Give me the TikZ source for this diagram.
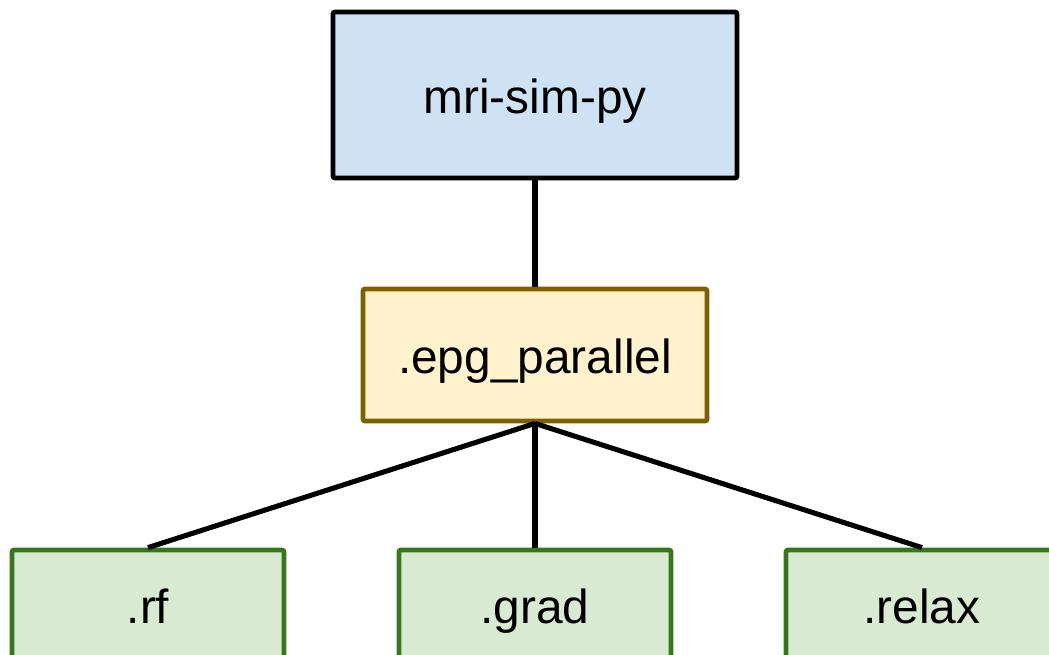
\documentclass[tikz,border=0pt]{standalone}
\usepackage{fontspec}
\setmainfont{Liberation Sans}
\usepackage{tikz}
\usepackage{xcolor}
\definecolor{pkgblue}{HTML}{CFE2F3}
\definecolor{modfill}{HTML}{FFF2CC}
\definecolor{moddraw}{HTML}{7F6000}
\definecolor{subfill}{HTML}{D9EAD3}
\definecolor{subdraw}{HTML}{38761D}
\tikzset{
    pkg-box/.style = {draw=black, fill=pkgblue, line width=3.4pt, rectangle, rounded corners=1.5pt, minimum width=10.1cm, minimum height=4.15cm, text height=30pt, text depth=4.4pt, font=\fontsize{34}{40}\selectfont},
    mod-box/.style = {draw=moddraw, fill=modfill, line width=3.4pt, rectangle, rounded corners=1.5pt, minimum width=8.6cm, minimum height=3.3cm, text height=30pt, text depth=4.4pt, font=\fontsize{34}{40}\selectfont},
    sub-box/.style = {draw=subdraw, fill=subfill, line width=3.4pt, rectangle, rounded corners=1.5pt, minimum width=6.8cm, minimum height=2.75cm, text height=30pt, text depth=4.4pt, font=\fontsize{34}{40}\selectfont},
    link/.style = {draw=black, line width=3.6pt},
}

\begin{document}
\begin{tikzpicture}[x=0.025cm, y=-0.025cm]
\useasboundingbox (0,0) rectangle (1049,654);
\clip (0,0) rectangle (1049,654);
\node [pkg-box] (pkg) at (535,95) {mri-sim-py};
\node [mod-box] (epg) at (535,355) {.epg\_parallel};
\node [sub-box] (rf) at (148,605) {.rf};
\node [sub-box] (grad) at (535,605) {.grad};
\node [sub-box] (relax) at (922,605) {.relax};
\draw [link] (pkg.south) -- (epg.north);
\draw [link] (epg.south) -- (rf.north);
\draw [link] (epg.south) -- (grad.north);
\draw [link] (epg.south) -- (relax.north);
\end{tikzpicture}
\end{document}
